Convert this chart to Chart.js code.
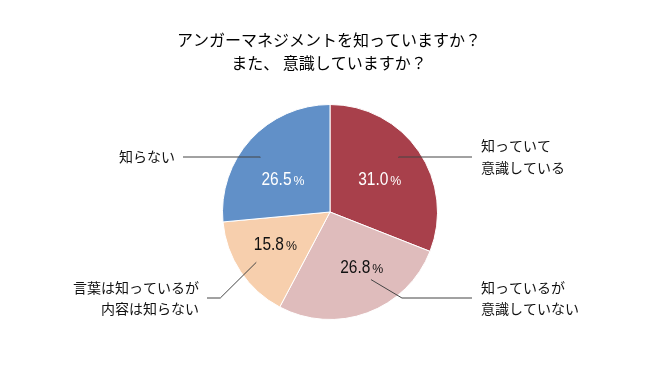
<!DOCTYPE html>
<html>
<head>
<meta charset="utf-8">
<script src="https://cdn.jsdelivr.net/npm/chart.js@4/dist/chart.umd.min.js"></script>
<style>
  html, body { margin: 0; padding: 0; background: #fff; }
  #wrap { width: 660px; height: 376px; }
</style>
</head>
<body>
<div id="wrap"><canvas id="pieChart" width="660" height="376"></canvas></div>
<script>
// data
const titleLines = ['アンガーマネジメントを知っていますか？', 'また、 意識していますか？'];
const categories = [
  ['知っていて', '意識している'],
  ['知っているが', '意識していない'],
  ['言葉は知っているが', '内容は知らない'],
  ['知らない'],
];
const values = [31.0, 26.8, 15.8, 26.5];
const colors = ['#a8404b', '#dfbcbc', '#f7cfad', '#6190c8'];
const valueColors = ['#ffffff', '#111111', '#111111', '#ffffff'];

// label layout: leader start (angle tweak, radius fraction), elbow, end; value label angle/radius
const labelLayout = [
  { da: -4.2, f: 0.815, elbowDx: 0, elbowY: -55, endX: 142, side: 'right', vOff: 0, vr: 0.56, ty: -11, lh: 22 },
  { da: -10.9, f: 0.735, elbowDx: 31, elbowY: 86, endX: 142, side: 'right', vOff: -10, vr: 0.585, ty: -10, lh: 20.5 },
  { da: -0.6, f: 0.83, elbowDx: -36, elbowY: 86, endX: -123, side: 'left', vOff: 3.7, vr: 0.587, ty: -10, lh: 21 },
  { da: -4.3, f: 0.824, elbowDx: 0, elbowY: -55, endX: -147, side: 'left', vOff: -6.5, vr: 0.54, ty: 0, lh: 21 },
];

const cjk = '"Noto Sans CJK JP", "Noto Sans", sans-serif';
const num = '"Liberation Sans", Arial, sans-serif';

const labelPlugin = {
  id: 'labelPlugin',
  afterDraw(chart) {
    const ctx = chart.ctx;
    const meta = chart.getDatasetMeta(0);
    ctx.save();

    // title
    ctx.fillStyle = '#000';
    ctx.font = '16px ' + cjk;
    ctx.textAlign = 'center';
    ctx.textBaseline = 'middle';
    ctx.fillText(titleLines[0], 329, 40);
    ctx.fillText(titleLines[1], 329, 63);

    meta.data.forEach((arc, i) => {
      const { x, y, startAngle, endAngle, outerRadius } = arc.getProps(['x', 'y', 'startAngle', 'endAngle', 'outerRadius'], true);
      const lay = labelLayout[i];
      const mid = (startAngle + endAngle) / 2;

      // value label (narrowed digits, small %)
      const va = mid + (lay.vOff * Math.PI / 180);
      const vx = x + Math.cos(va) * outerRadius * lay.vr;
      const vy = y + Math.sin(va) * outerRadius * lay.vr;
      const txt = values[i].toFixed(1);
      const sx = 0.86;
      ctx.font = '18px ' + num;
      const nw = ctx.measureText(txt).width * sx;
      ctx.font = '13px ' + num;
      const pw = ctx.measureText('%').width * 0.95;
      const tw = nw + 2 + pw;
      ctx.fillStyle = valueColors[i];
      ctx.textAlign = 'left';
      ctx.textBaseline = 'alphabetic';
      ctx.save();
      ctx.translate(vx - tw / 2, vy + 6.5);
      ctx.scale(sx, 1);
      ctx.font = '18px ' + num;
      ctx.fillText(txt, 0, 0);
      ctx.restore();
      ctx.save();
      ctx.translate(vx - tw / 2 + nw + 2, vy + 6.5);
      ctx.scale(0.95, 1);
      ctx.font = '13px ' + num;
      ctx.fillText('%', 0, 0);
      ctx.restore();

      // leader line
      const a = mid + (lay.da * Math.PI / 180);
      const lx = x + Math.cos(a) * outerRadius * lay.f;
      const ly = y + Math.sin(a) * outerRadius * lay.f;
      const ey = y + lay.elbowY;
      const ex = lx + lay.elbowDx;
      const endX = x + lay.endX;
      ctx.strokeStyle = '#444';
      ctx.lineWidth = 1;
      ctx.beginPath();
      ctx.moveTo(lx, ly);
      ctx.lineTo(ex, ey);
      ctx.lineTo(endX, ey);
      ctx.stroke();

      // category text
      ctx.fillStyle = '#111';
      ctx.font = '14px ' + cjk;
      ctx.textBaseline = 'middle';
      const lines = categories[i];
      const ty = ey + lay.ty;
      if (lay.side === 'right') {
        ctx.textAlign = 'left';
        lines.forEach((t, k) => ctx.fillText(t, endX + 9, ty + k * lay.lh));
      } else {
        ctx.textAlign = 'right';
        lines.forEach((t, k) => ctx.fillText(t, endX - 8, ty + k * lay.lh));
      }
    });
    ctx.restore();
  },
};

const ctx = document.getElementById('pieChart').getContext('2d');
new Chart(ctx, {
  type: 'pie',
  data: {
    labels: categories.map((c) => c.join('')),
    datasets: [{
      data: values,
      backgroundColor: colors,
      borderColor: '#ffffff',
      borderWidth: 1,
    }],
  },
  options: {
    responsive: false,
    animation: false,
    layout: { padding: { top: 104, bottom: 56, left: 100, right: 100 } },
    plugins: {
      legend: { display: false },
      title: { display: false },
      tooltip: { enabled: false },
    },
  },
  plugins: [labelPlugin],
});
</script>
</body>
</html>
